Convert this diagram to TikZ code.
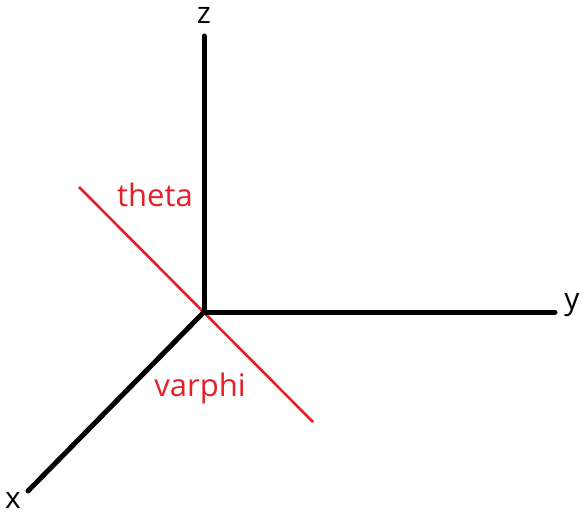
\documentclass[tikz,border=0pt]{standalone}
\usepackage{fontspec}
\setmainfont{Open Sans}
\usetikzlibrary{calc}

\definecolor{anglered}{RGB}{230,30,40}

\begin{document}
\begin{tikzpicture}[x=1pt,y=-1pt,
  axis/.style={black, line width=5pt, line cap=round},
  angleline/.style={anglered, line width=2.6pt},
  axislabel/.style={font=\fontsize{30}{33}\selectfont, text=black, inner sep=0pt},
  anglelabel/.style={font=\fontsize{31}{34}\selectfont, text=anglered, inner sep=0pt}]

\useasboundingbox (0,0) rectangle (587,524);

% Axes
\coordinate (O) at (204,312);
\coordinate (zend) at (204,36);
\coordinate (yend) at (555,312);
\coordinate (xend) at (28,491);

% Red line through the origin
\coordinate (rtop) at (79,187);
\coordinate (rbot) at (313,422);
\draw[angleline] (rtop) -- (rbot);

\draw[axis] (O) -- (zend);
\draw[axis] (O) -- (yend);
\draw[axis] (O) -- (xend);

\node[axislabel] (zlab) at (204,15) {z};
\node[axislabel] (ylab) at (572,305) {y};
\node[axislabel] (xlab) at (13,500) {x};

\node[anglelabel] (thetalab) at (155,195) {theta};
\node[anglelabel] (varphilab) at (200,388) {varphi};
\end{tikzpicture}
\end{document}
